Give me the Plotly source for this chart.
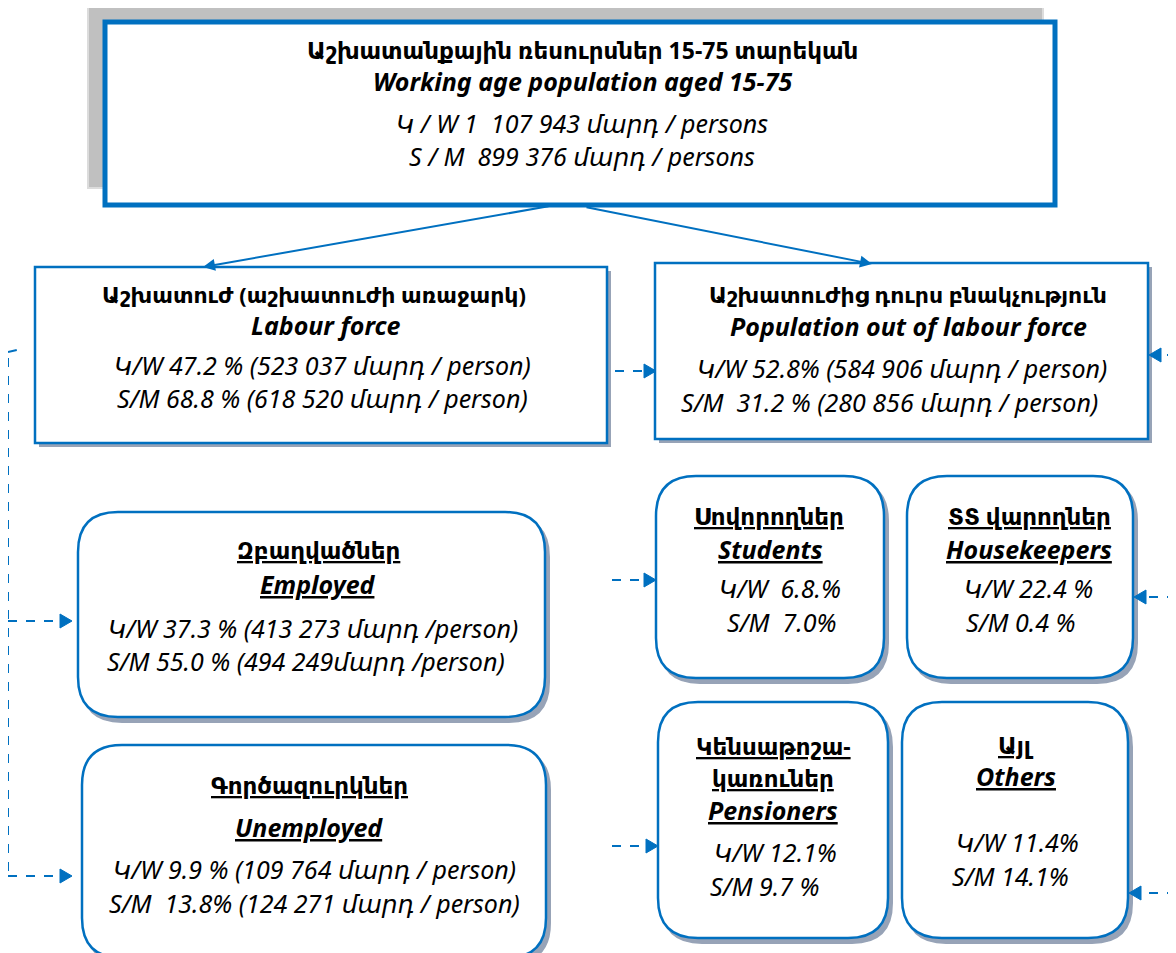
import plotly.graph_objects as go

W, H = 1176, 953
OFF = 8  # page body margin in the browser
BLUE = "#0070c0"
SHADOW = "#97a3b7"
FONT = "Noto Sans, DejaVu Sans, sans-serif"

# ---------------- data ----------------
top_title_hy = "Աշխատանքային ռեսուրսներ 15-75 տարեկան"
top_title_en = "Working age population aged 15-75"
top_women = "1  107 943"
top_men = "899 376"

group_hy = ["Աշխատուժ (աշխատուժի առաջարկ)", "Աշխատուժից դուրս բնակչություն",
            "Զբաղվածներ", "Գործազուրկներ"]
group_en = ["Labour force", "Population out of labour force", "Employed", "Unemployed"]
group_women_pct = ["47.2 %", "52.8%", "37.3 %", "9.9 %"]
group_men_pct = ["68.8 %", " 31.2 %", "55.0 %", " 13.8%"]
group_women_n = ["523 037", "584 906", "413 273", "109 764"]
group_men_n = ["618 520", "280 856", "494 249", "124 271"]

inactive_hy = ["Սովորողներ", "ՏՏ վարողներ", "Կենսաթոշա-", "Այլ"]
inactive_hy2 = ["", "", "կառուներ", ""]
inactive_en = ["Students", "Housekeepers", "Pensioners", "Others"]
inactive_women = [" 6.8.%", "22.4 %", "12.1%", "11.4%"]
inactive_men = [" 7.0%", "0.4 %", "9.7 %", "14.1%"]

HY = 22   # Armenian bold headers (large boxes)
HYS = 23  # Armenian bold headers (rounded boxes)
EN = 25   # English bold italic headers
DT = 25   # data lines

fig = go.Figure()
shapes = []
ann = []


def rect(x0, y0, x1, y1, lw=2, color=BLUE, fill="white"):
    shapes.append(dict(type="rect", x0=x0, y0=y0, x1=x1, y1=y1, xref="x", yref="y",
                       line=dict(color=color, width=lw), fillcolor=fill, layer="above"))


def rrect_path(x0, y0, x1, y1, r):
    return (f"M{x0+r},{y0} L{x1-r},{y0} Q{x1},{y0} {x1},{y0+r} L{x1},{y1-r} "
            f"Q{x1},{y1} {x1-r},{y1} L{x0+r},{y1} Q{x0},{y1} {x0},{y1-r} "
            f"L{x0},{y0+r} Q{x0},{y0} {x0+r},{y0} Z")


def rbox(x0, y0, x1, y1, r=40):
    shapes.append(dict(type="path", path=rrect_path(x0 + 4, y0 + 5, x1 + 4, y1 + 5, r),
                       xref="x", yref="y", line=dict(color=SHADOW, width=2),
                       fillcolor=SHADOW, layer="above"))
    shapes.append(dict(type="path", path=rrect_path(x0, y0, x1, y1, r), xref="x", yref="y",
                       line=dict(color=BLUE, width=2.5), fillcolor="white", layer="above"))


def sbox(x0, y0, x1, y1):
    rect(x0 + 4, y0 + 4, x1 + 4, y1 + 4, lw=0, color=SHADOW, fill=SHADOW)
    rect(x0, y0, x1, y1, lw=2.5)


def fmt(s, bold=False, italic=False, under=False):
    if under:
        s = f"<u>{s}</u>"
    if italic:
        s = f"<i>{s}</i>"
    if bold:
        s = f"<b>{s}</b>"
    return s


def text(x, y, s, size=DT, bold=False, italic=False, under=False):
    ann.append(dict(x=x, y=y, xref="x", yref="y", text=fmt(s, bold, italic, under),
                    showarrow=False, font=dict(family=FONT, size=size, color="black"),
                    xanchor="center", yanchor="middle"))


def dline(x0, y0, x1, y1):
    shapes.append(dict(type="line", x0=x0, y0=y0, x1=x1, y1=y1, xref="x", yref="y",
                       line=dict(color=BLUE, width=2, dash="dash"), layer="above"))


def head(x, y, d=1):
    p = f"M{x},{y} L{x-12*d},{y-7} L{x-12*d},{y+7} Z"
    shapes.append(dict(type="path", path=p, xref="x", yref="y",
                       line=dict(color=BLUE, width=1), fillcolor=BLUE, layer="above"))


# ---------------- top box ----------------
rect(88, 4, 1043, 188, lw=2, color="#dcdcdc", fill="#c0c0c0")
rect(105, 22, 1055, 205, lw=5)
cx = 582
text(cx, 50, top_title_hy, 23, bold=True)
text(cx, 81, top_title_en, EN, bold=True, italic=True)
text(cx, 123, f"Կ / W {top_women} մարդ / persons", DT, italic=True)
text(cx, 156, f"S / M  {top_men} մարդ / persons", DT, italic=True)

# solid arrows
ann.append(dict(x=203, y=267, ax=550, ay=206, xref="x", yref="y", axref="x", ayref="y",
                text="", showarrow=True, arrowhead=2, arrowsize=1.2, arrowwidth=2,
                arrowcolor=BLUE))
ann.append(dict(x=872, y=264, ax=585, ay=207, xref="x", yref="y", axref="x", ayref="y",
                text="", showarrow=True, arrowhead=2, arrowsize=1.2, arrowwidth=2,
                arrowcolor=BLUE))

# ---------------- labour force boxes ----------------
sbox(35, 267, 607, 443)
text(314, 294, group_hy[0], HY, bold=True)
text(326, 325, group_en[0], EN, bold=True, italic=True)
text(322, 365, f"Կ/W {group_women_pct[0]} ({group_women_n[0]} մարդ / person)", DT, italic=True)
text(322, 398, f"S/M {group_men_pct[0]} ({group_men_n[0]} մարդ / person)", DT, italic=True)

sbox(655, 263, 1148, 439)
text(908, 294, group_hy[1], HY, bold=True)
text(908, 326, group_en[1], EN, bold=True, italic=True)
text(902, 368, f"Կ/W {group_women_pct[1]} ({group_women_n[1]} մարդ / person)", DT, italic=True)
text(889, 402, f"S/M {group_men_pct[1]} ({group_men_n[1]} մարդ / person)", DT, italic=True)

# ---------------- employed / unemployed ----------------
rbox(78, 512, 545, 717)
text(318, 550, group_hy[2], HYS, bold=True, under=True)
text(318, 584, group_en[2], EN, bold=True, italic=True, under=True)
text(313, 628, f"Կ/W {group_women_pct[2]} ({group_women_n[2]} մարդ /person)", DT, italic=True)
text(306, 661, f"S/M {group_men_pct[2]} ({group_men_n[2]}մարդ /person)", DT, italic=True)

rbox(82, 745, 546, 958)
text(309, 785, group_hy[3], HYS, bold=True, under=True)
text(309, 827, group_en[3], EN, bold=True, italic=True, under=True)
text(314, 869, f"Կ/W {group_women_pct[3]} ({group_women_n[3]} մարդ / person)", DT, italic=True)
text(314, 903, f"S/M {group_men_pct[3]} ({group_men_n[3]} մարդ / person)", DT, italic=True)

# ---------------- inactive boxes ----------------
rbox(656, 476, 884, 678)
text(769, 516, inactive_hy[0], HYS, bold=True, under=True)
text(770, 549, inactive_en[0], EN, bold=True, italic=True, under=True)
text(780, 588, f"Կ/W {inactive_women[0]}", DT, italic=True)
text(781, 622, f"S/M {inactive_men[0]}", DT, italic=True)

rbox(907, 476, 1133, 678)
text(1029, 516, inactive_hy[1], HYS, bold=True, under=True)
text(1029, 549, inactive_en[1], EN, bold=True, italic=True, under=True)
text(1028, 588, f"Կ/W {inactive_women[1]}", DT, italic=True)
text(1020, 622, f"S/M {inactive_men[1]}", DT, italic=True)

rbox(658, 702, 888, 938)
text(773, 746, inactive_hy[2], HYS, bold=True, under=True)
text(773, 778, inactive_hy2[2], HYS, bold=True, under=True)
text(773, 810, inactive_en[2], EN, bold=True, italic=True, under=True)
text(775, 852, f"Կ/W {inactive_women[2]}", DT, italic=True)
text(764, 886, f"S/M {inactive_men[2]}", DT, italic=True)

rbox(902, 702, 1128, 938)
text(1016, 745, inactive_hy[3], HYS, bold=True, under=True)
text(1016, 776, inactive_en[3], EN, bold=True, italic=True, under=True)
text(1017, 842, f"Կ/W {inactive_women[3]}", DT, italic=True)
text(1010, 876, f"S/M {inactive_men[3]}", DT, italic=True)

# ---------------- dashed connectors ----------------
dline(615, 371, 645, 371); head(656, 371, 1)
dline(8, 352, 17, 350)
dline(8, 358, 8, 876)
dline(8, 621, 60, 621); head(72, 621, 1)
dline(8, 876, 60, 876); head(72, 876, 1)
dline(612, 580, 645, 580); head(656, 580, 1)
dline(612, 846, 647, 846); head(658, 846, 1)
dline(1176, 355, 1160, 355); head(1149, 355, -1)
dline(1176, 597, 1145, 597); head(1134, 597, -1)
dline(1176, 893, 1140, 893); head(1129, 893, -1)

fig.update_layout(
    width=W, height=H, margin=dict(l=0, r=0, t=0, b=0),
    paper_bgcolor="white", plot_bgcolor="white",
    xaxis=dict(range=[OFF, W + OFF], visible=False, fixedrange=True),
    yaxis=dict(range=[H + OFF, OFF], visible=False, fixedrange=True),
    shapes=shapes, annotations=ann, showlegend=False,
)
fig.write_html("out.html")
